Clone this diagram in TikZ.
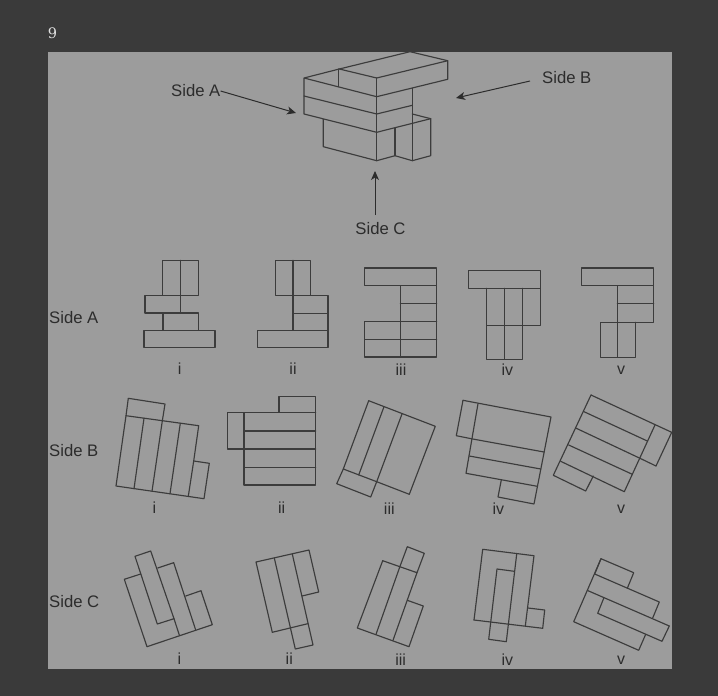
\documentclass[tikz,border=0pt]{standalone}
\usepackage{fontspec}
\setmainfont{Liberation Sans}
\newfontfamily\numfont{DejaVu Serif}
\usetikzlibrary{arrows.meta}
\definecolor{pagebg}{HTML}{3A3A3A}
\definecolor{panelbg}{HTML}{9C9C9C}
\definecolor{inkc}{HTML}{3C3C3C}
\definecolor{txtc}{HTML}{2C2C2C}
\tikzset{
  ln/.style={draw=inkc,line width=1.15pt,line join=round,line cap=round},
  arw/.style={draw=txtc,line width=1pt,-{Stealth[length=9pt,width=8pt,inset=2.5pt]}},
  lab/.style={text=txtc,font=\fontsize{16.7}{18}\selectfont,inner sep=0pt},
  rom/.style={text=txtc,font=\fontsize{16}{18}\selectfont,inner sep=0pt}
}
\begin{document}
\begin{tikzpicture}[x=1pt,y=-1pt]
\useasboundingbox (0,0) rectangle (718,696);
\fill[pagebg] (0,0) rectangle (718,696);
\fill[panelbg] (48,52) rectangle (672,669);
\node[text=white!88!black,font=\numfont\fontsize{14.5}{18}\selectfont,inner sep=0pt] (qnum) at (52.5,33.5) {9};

% top solid
\draw[ln] (304,78)--(376.7,96.7)--(447.7,79.3)--(447.7,60.7)--(410,51.7)--(339.3,69)--(304,78)--(304,114)--(376.7,132.3)--(430.7,118.7)--(430.7,155.7)--(412.3,160.7)--(395,155.7)--(376.7,160.7)--(323.3,146.7)--(323.3,119);
\draw[ln] (339.3,69)--(376.7,78)--(447.7,60.7);
\draw[ln] (338.3,69)--(338.3,86.7);
\draw[ln] (304,96)--(376.7,114)--(412.3,105.3);
\draw[ln] (376.7,78)--(376.7,160.7);
\draw[ln] (412.3,88.3)--(412.3,160.7);
\draw[ln] (412.3,114)--(430.7,118.7);
\draw[ln] (395,128.3)--(395,155.7);

% side labels and arrows
\node[lab,anchor=west] (sA) at (171,91) {Side A};
\node[lab,anchor=west] (sB) at (542,78) {Side B};
\node[lab] (sC) at (380.5,229) {Side C};
\coordinate (tA) at (296,113);
\coordinate (tB) at (456,98);
\coordinate (tC) at (375,171);
\coordinate (fB) at (530,81);
\coordinate (fC) at (375,215);
\draw[arw] (sA.east) -- (tA);
\draw[arw] (fB) -- (tB);
\draw[arw] (fC) -- (tC);

\node[lab,anchor=west] (rA) at (49,318) {Side A};
\node[lab,anchor=west] (rB) at (49,451) {Side B};
\node[lab,anchor=west] (rC) at (49,602) {Side C};

% row A
\draw[ln] (162.7,260.3) rectangle (198.3,295.3) (180.3,260.3)--(180.3,313);
\draw[ln] (145,295.3) rectangle (180.3,313);
\draw[ln] (163,313) rectangle (198.3,330.3);
\draw[ln] (144,330.3) rectangle (215,347.3);
\node[rom] (Ai) at (179.7,369) {i};

\draw[ln] (275.3,260.3) rectangle (310.7,295.3) (293,260.3)--(293,330.3);
\draw[ln] (293,295.3) rectangle (328,330.3) (293,313.7)--(328,313.7);
\draw[ln] (257.7,330.3) rectangle (328,347.3);
\node[rom] (Aii) at (293,369) {ii};

\draw[ln] (364.7,268) rectangle (436.7,285.7);
\draw[ln] (400.3,285.7)--(400.3,357) (436.7,285.7)--(436.7,357)--(364.7,357)--(364.7,321.3)--(436.7,321.3);
\draw[ln] (400.3,303.3)--(436.7,303.3) (364.7,339.3)--(436.7,339.3);
\node[rom] (Aiii) at (401,370) {iii};

\draw[ln] (468.3,270.3) rectangle (540.7,288.3);
\draw[ln] (486.7,288.3)--(486.7,359.3)--(522.3,359.3)--(522.3,288.3) (504.3,288.3)--(504.3,359.3);
\draw[ln] (540.7,288.3)--(540.7,325.7)--(486.7,325.7);
\node[rom] (Aiv) at (507.3,370) {iv};

\draw[ln] (581.7,268) rectangle (653.7,285.7);
\draw[ln] (617.3,285.7)--(617.3,357.3) (653.7,285.7)--(653.7,322.3)--(600.3,322.3)--(600.3,357.3)--(635.7,357.3)--(635.7,322.3);
\draw[ln] (617.3,303.3)--(653.7,303.3);
\node[rom] (Av) at (621,370.7) {v};

% row B
\draw[ln] (126,415.7)--(128.3,398.3)--(165,404)--(162.3,421);
\draw[ln] (126,415.7)--(198.7,425.7)--(193.7,461)--(209.3,463.3)--(204,498.7)--(116,486)--cycle;
\draw[ln] (144,418.3)--(134,488.7) (162.3,421)--(152,491.3) (180.3,423.3)--(170,493.7) (193.7,461)--(188.3,496.3);
\node[rom] (Bi) at (154.3,507.7) {i};

\draw[ln] (279,412.3)--(279,396.7)--(315.7,396.7)--(315.7,485)--(244,485)--(244,412.3)--cycle;
\draw[ln] (279,412.3)--(315.7,412.3);
\draw[ln] (244,412.3)--(227.3,412.3)--(227.3,449)--(244,449);
\draw[ln] (244,431)--(315.7,431) (244,449)--(315.7,449) (244,467.3)--(315.7,467.3);
\node[rom] (Bii) at (281.7,507.7) {ii};

\draw[ln] (368.7,400.7)--(435.3,426.3)--(409.3,494.3)--(376.7,481.7)--(343.3,469)--cycle;
\draw[ln] (343.3,469)--(336.7,483.7)--(370.7,497)--(376.7,481.7);
\draw[ln] (384,406.7)--(358.7,475) (402,414)--(376.7,481.7);
\node[rom] (Biii) at (389.3,508.3) {iii};

\draw[ln] (463,400.3)--(551,417)--(534,504)--(498,497)--(501.3,480);
\draw[ln] (463,400.3)--(456.3,435.7)--(472.7,439)--(544,452);
\draw[ln] (478,403.7)--(466,473.3)--(537.3,486.3);
\draw[ln] (469.3,456)--(540.7,469);
\node[rom] (Biv) at (498.3,508.3) {iv};

\draw[ln] (591,395)--(671.7,432.3)--(656,466)--(640,458.3);
\draw[ln] (591,395)--(553.3,475.3)--(585.7,491)--(593.3,476);
\draw[ln] (655,425)--(624.3,491.7)--(560.7,461.3);
\draw[ln] (584,411.7)--(647.3,441) (576.3,428.3)--(640,458.3) (568.7,445)--(632.3,474.3);
\node[rom] (Bv) at (621,509) {v};

% row C
\draw[ln] (135,556.3)--(150.7,551)--(174,618.7)--(157.3,624)--cycle;
\draw[ln] (140.7,574)--(124.3,579.3)--(147,646.7)--(212.3,624.7)--(201,590.7)--(185.7,596);
\draw[ln] (157.7,568)--(173.7,562.7)--(195.7,630);
\draw[ln] (174,618.7)--(179.3,635);
\node[rom] (Ci) at (179.3,659) {i};

\draw[ln] (307.7,623.7)--(272.3,632.3)--(256,562)--(309,550)--(318.7,592)--(302,596);
\draw[ln] (292.3,554)--(313,645)--(295.3,649)--(274.3,558);
\node[rom] (Cii) at (289.3,659) {ii};

\draw[ln] (382.7,560.7)--(417,572.7)--(424.3,553.3)--(407.3,546.7)--(400,566.3)--(376,634.3);
\draw[ln] (417,572.7)--(393,640.3);
\draw[ln] (382.7,560.7)--(357.3,628)--(409,646.7)--(423.3,606)--(407.3,600.3);
\node[rom] (Ciii) at (400.7,660) {iii};

\draw[ln] (474,620)--(482.7,549.3)--(534,555.7)--(525.3,626);
\draw[ln] (474,620)--(542.7,628.3)--(544.7,610)--(528,608);
\draw[ln] (516.7,554)--(506.3,641.7)--(488.7,639.3)--(497,569)--(514.3,571.3);
\node[rom] (Civ) at (507.3,659.3) {iv};

\draw[ln] (594.7,574)--(601,558.7)--(633.7,572.7)--(627.3,588.3);
\draw[ln] (594.7,574)--(659.3,602)--(652.7,618);
\draw[ln] (601,558.7)--(573.7,621.7)--(638.7,650.3)--(645.7,634.3);
\draw[ln] (588,590.7)--(669.3,626)--(662,641.3)--(597.7,613.3)--(603.7,598.3);
\node[rom] (Cv) at (621,660) {v};
\end{tikzpicture}
\end{document}
